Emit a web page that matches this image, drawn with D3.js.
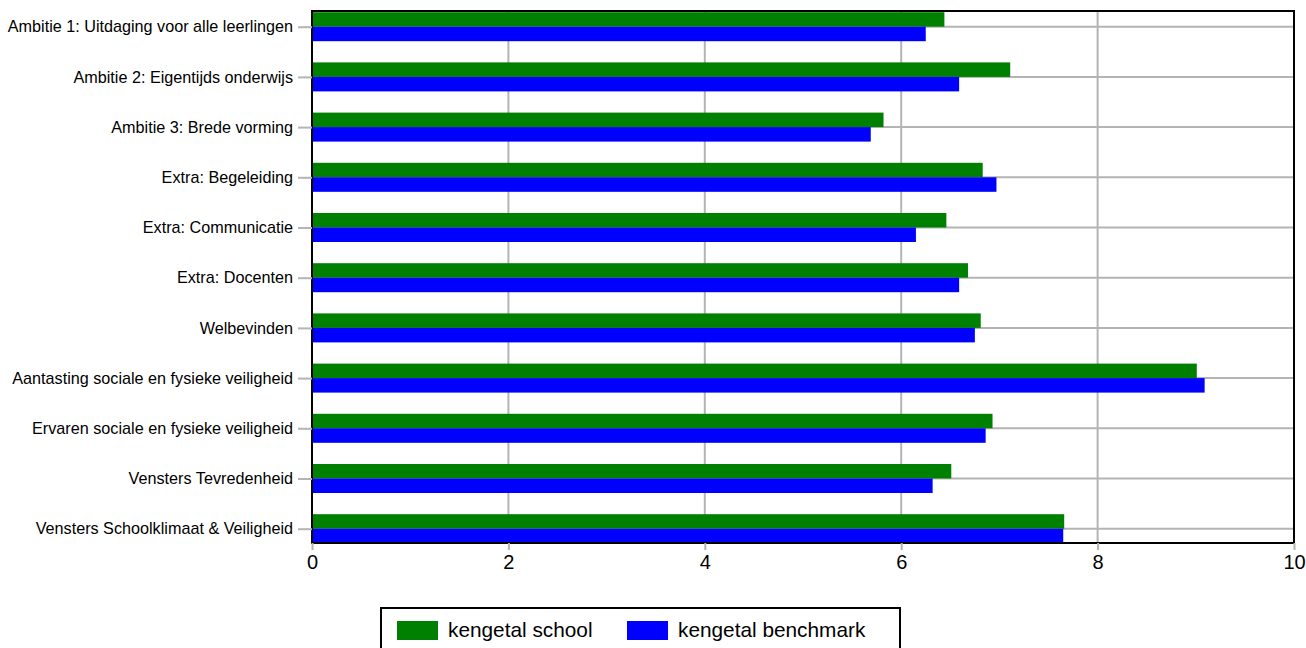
<!DOCTYPE html>
<html>
<head>
<meta charset="utf-8">
<script src="https://cdn.jsdelivr.net/npm/d3@7"></script>
<style>
  body { margin: 0; background: #fff; }
  text { font-family: Arial, "Liberation Sans", sans-serif; fill: #000; }
</style>
</head>
<body>
<div id="chart-area"></div>
<script>
const categories = [
    "Ambitie 1: Uitdaging voor alle leerlingen",
    "Ambitie 2: Eigentijds onderwijs",
    "Ambitie 3: Brede vorming",
    "Extra: Begeleiding",
    "Extra: Communicatie",
    "Extra: Docenten",
    "Welbevinden",
    "Aantasting sociale en fysieke veiligheid",
    "Ervaren sociale en fysieke veiligheid",
    "Vensters Tevredenheid",
    "Vensters Schoolklimaat & Veiligheid"
]
const schoolValues = [6.44, 7.11, 5.82, 6.83, 6.46, 6.68, 6.81, 9.01, 6.93, 6.51, 7.66]
const benchmarkValues = [6.25, 6.59, 5.69, 6.97, 6.15, 6.59, 6.75, 9.09, 6.86, 6.32, 7.65]
const seriesNames = ["kengetal school", "kengetal benchmark"]
const xTicks = [0, 2, 4, 6, 8, 10]

const totalWidth = 1306
const totalHeight = 648
const MARGIN = {LEFT: 312, RIGHT: 12, TOP: 11, BOTTOM: 105}
const WIDTH = totalWidth - MARGIN.LEFT - MARGIN.RIGHT
const HEIGHT = totalHeight - MARGIN.TOP - MARGIN.BOTTOM
const BAR_H = 14.5
const GRID = "#b4b4b4"

const svg = d3.select("#chart-area")
    .append("svg")
    .attr("width", totalWidth)
    .attr("height", totalHeight)

const g = svg.append("g")
    .attr("transform", `translate(${MARGIN.LEFT}, ${MARGIN.TOP})`)

const xScale = d3.scaleLinear()
    .domain([0, 10])
    .range([0, WIDTH])

const yScale = d3.scalePoint()
    .domain(categories)
    .range([15.7, HEIGHT - 14.3])

// grid lines
g.selectAll(".vgrid")
    .data(xTicks.slice(1, -1))
    .enter().append("line")
    .attr("x1", d => xScale(d)).attr("x2", d => xScale(d))
    .attr("y1", 0).attr("y2", HEIGHT)
    .attr("stroke", GRID).attr("stroke-width", 2)

g.selectAll(".hgrid")
    .data(categories)
    .enter().append("line")
    .attr("x1", 0).attr("x2", WIDTH)
    .attr("y1", d => yScale(d)).attr("y2", d => yScale(d))
    .attr("stroke", GRID).attr("stroke-width", 2)

// bars
g.selectAll(".bar-school")
    .data(categories)
    .enter().append("rect")
    .attr("x", 0)
    .attr("y", d => yScale(d) - BAR_H)
    .attr("width", (d, i) => xScale(schoolValues[i]))
    .attr("height", BAR_H)
    .attr("fill", "#008000")

g.selectAll(".bar-bench")
    .data(categories)
    .enter().append("rect")
    .attr("x", 0)
    .attr("y", d => yScale(d))
    .attr("width", (d, i) => xScale(benchmarkValues[i]))
    .attr("height", BAR_H)
    .attr("fill", "#0000ff")

// frame
g.append("rect")
    .attr("x", 0).attr("y", 0)
    .attr("width", WIDTH).attr("height", HEIGHT)
    .attr("fill", "none")
    .attr("stroke", "#000")
    .attr("stroke-width", 2)

// axes
const xAxis = g.append("g")
    .attr("transform", `translate(0, ${HEIGHT})`)
    .call(d3.axisBottom(xScale).tickValues(xTicks).tickSize(7).tickPadding(5))
xAxis.select(".domain").remove()
xAxis.selectAll("line").attr("stroke", GRID).attr("stroke-width", 2)
xAxis.selectAll("text").attr("font-size", "20px")

const yAxis = g.append("g")
    .call(d3.axisLeft(yScale).tickSize(14).tickPadding(5))
yAxis.select(".domain").remove()
yAxis.selectAll("line").attr("stroke", GRID).attr("stroke-width", 2)
yAxis.selectAll("text").attr("font-size", "16.2px")

// legend
const legend = svg.append("g")
    .attr("transform", "translate(381, 608)")

legend.append("rect")
    .attr("x", 0).attr("y", 0)
    .attr("width", 519).attr("height", 60)
    .attr("fill", "#fff")
    .attr("stroke", "#000")
    .attr("stroke-width", 2)

const legendX = [16, 246]
const legendColors = ["#008000", "#0000ff"]
seriesNames.forEach((name, i) => {
    legend.append("rect")
        .attr("x", legendX[i]).attr("y", 13)
        .attr("width", 41).attr("height", 19)
        .attr("fill", legendColors[i])
    legend.append("text")
        .attr("x", legendX[i] + 51)
        .attr("y", 29)
        .attr("font-size", "20.8px")
        .text(name)
})
</script>
</body>
</html>
